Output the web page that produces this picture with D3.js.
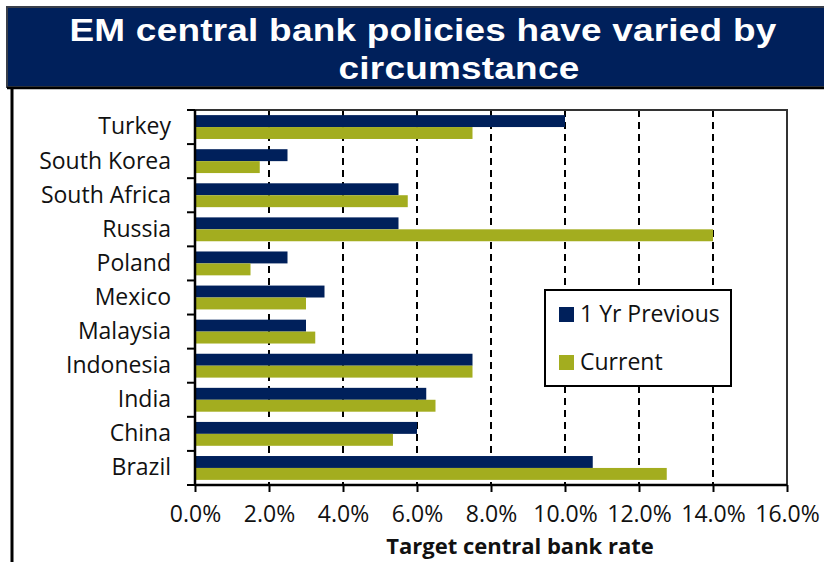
<!DOCTYPE html>
<html>
<head>
<meta charset="utf-8">
<script src="https://cdn.jsdelivr.net/npm/d3@7"></script>
<style>
  html, body { margin: 0; padding: 0; background: #fff; }
  svg { display: block; }
</style>
</head>
<body>
<svg id="chart" width="824" height="562"></svg>
<script>
// Policy rates by country, top to bottom
const countries = ["Turkey", "South Korea", "South Africa", "Russia", "Poland", "Mexico",
                   "Malaysia", "Indonesia", "India", "China", "Brazil"];
const previousRates = [10.0, 2.5, 5.5, 5.5, 2.5, 3.5, 3.0, 7.5, 6.25, 6.0, 10.75];
const currentRates  = [7.5, 1.75, 5.75, 14.0, 1.5, 3.0, 3.25, 7.5, 6.5, 5.35, 12.75];
const seriesNames = ["1 Yr Previous", "Current"];
const seriesColors = ["#00205b", "#a3ad1f"];
const xTicks = [0, 2, 4, 6, 8, 10, 12, 14, 16];
const titleLines = ["EM central bank policies have varied by", "circumstance"];
const xAxisTitle = "Target central bank rate";

const svg = d3.select("#chart");
const labelFont = "'Open Sans', sans-serif";

// Title banner
svg.append("rect").attr("x", 7).attr("y", 7).attr("width", 830).attr("height", 80)
  .attr("fill", "#00205b").attr("stroke", "#3a3f4a").attr("stroke-width", 2);
svg.append("line").attr("x1", 7).attr("x2", 824).attr("y1", 88).attr("y2", 88)
  .attr("stroke", "#000").attr("stroke-width", 2.5);
svg.append("line").attr("x1", 12).attr("x2", 12).attr("y1", 88).attr("y2", 562)
  .attr("stroke", "#000").attr("stroke-width", 3);

// Title in a horizontally widened bold face
const titleStretch = 1.155;
const titleX = [423, 459];
const titleY = [41, 79];
const titleG = svg.append("g").attr("transform", `scale(${titleStretch},1)`);
titleLines.forEach((t, i) => {
  titleG.append("text").attr("x", titleX[i] / titleStretch).attr("y", titleY[i])
    .attr("text-anchor", "middle")
    .attr("font-family", "'Liberation Sans', Arial, sans-serif")
    .attr("font-weight", "bold").attr("font-size", 32)
    .attr("letter-spacing", 0.2)
    .attr("fill", "#fff").text(t);
});

// Scales
const plot = { left: 195, right: 787, top: 110, bottom: 485 };
const x = d3.scaleLinear().domain([0, 16]).range([plot.left, plot.right]);
const y = d3.scaleBand().domain(countries).range([plot.top, plot.bottom])
  .paddingInner(0.3).paddingOuter(0.15);
const sub = d3.scaleBand().domain(seriesNames).range([0, y.bandwidth()]);

// Dashed gridlines
svg.append("g").selectAll("line").data(xTicks.filter(d => d > 0 && d < 16)).join("line")
  .attr("x1", d => x(d)).attr("x2", d => x(d))
  .attr("y1", plot.top).attr("y2", plot.bottom)
  .attr("stroke", "#000").attr("stroke-width", 2).attr("stroke-dasharray", "7,5");

// Plot frame (top and right)
svg.append("path")
  .attr("d", `M${plot.left},${plot.top}H${plot.right}V${plot.bottom}`)
  .attr("fill", "none").attr("stroke", "#333").attr("stroke-width", 2);

// Bars
const rows = countries.map((c, i) => ({ country: c, values: [previousRates[i], currentRates[i]] }));
const groups = svg.append("g").selectAll("g").data(rows).join("g")
  .attr("transform", d => `translate(0,${y(d.country)})`);
groups.selectAll("rect").data(d => d.values.map((v, k) => ({ v, k }))).join("rect")
  .attr("x", x(0))
  .attr("y", d => sub(seriesNames[d.k]))
  .attr("width", d => x(d.v) - x(0))
  .attr("height", sub.bandwidth())
  .attr("fill", d => seriesColors[d.k]);

// Bottom axis
const xAxis = svg.append("g").attr("transform", `translate(0,${plot.bottom})`)
  .call(d3.axisBottom(x).tickValues(xTicks).tickSize(7).tickPadding(14)
    .tickFormat(d => d.toFixed(1) + "%"));
xAxis.select(".domain").attr("stroke", "#000").attr("stroke-width", 2.5)
  .attr("d", `M${plot.left},0H${plot.right}`);
xAxis.selectAll(".tick line").attr("stroke", "#000").attr("stroke-width", 2);
xAxis.selectAll(".tick text").attr("font-family", labelFont).attr("font-size", 23)
  .attr("fill", "#111");

// Left axis: labels at band centres, ticks at band boundaries
const yAxis = svg.append("g").attr("transform", `translate(${plot.left},0)`)
  .call(d3.axisLeft(y).tickSize(0).tickPadding(24));
yAxis.select(".domain").attr("stroke", "#000").attr("stroke-width", 2.5)
  .attr("d", `M0,${plot.top}V${plot.bottom}`);
yAxis.selectAll(".tick text").attr("font-family", labelFont).attr("font-size", 23)
  .attr("fill", "#111");
const bounds = d3.range(countries.length + 1).map(i => plot.top + i * y.step());
yAxis.append("g").selectAll("line").data(bounds).join("line")
  .attr("x1", -8).attr("x2", 0).attr("y1", d => d).attr("y2", d => d)
  .attr("stroke", "#000").attr("stroke-width", 2);

// Axis title
svg.append("text").attr("x", 520).attr("y", 554).attr("text-anchor", "middle")
  .attr("font-family", labelFont).attr("font-weight", "bold").attr("font-size", 22)
  .attr("fill", "#111").text(xAxisTitle);

// Legend
const legend = svg.append("g");
legend.append("rect").attr("x", 545).attr("y", 290).attr("width", 186).attr("height", 96)
  .attr("fill", "#fff").attr("stroke", "#000").attr("stroke-width", 2);
seriesNames.forEach((name, i) => {
  const ly = 307 + i * 48;
  legend.append("rect").attr("x", 559).attr("y", ly).attr("width", 15).attr("height", 15)
    .attr("fill", seriesColors[i]);
  legend.append("text").attr("x", 580).attr("y", ly + 15)
    .attr("font-family", labelFont).attr("font-size", 23).attr("fill", "#111").text(name);
});
</script>
</body>
</html>
